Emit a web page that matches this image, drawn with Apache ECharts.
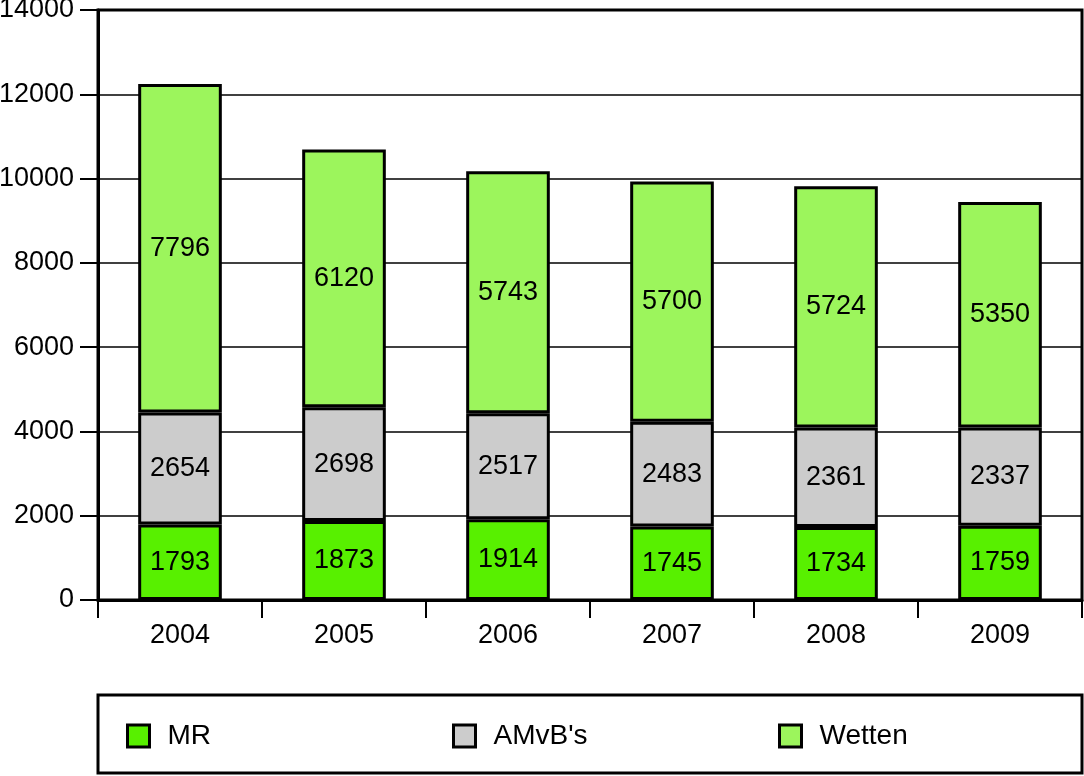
<!DOCTYPE html>
<html><head><meta charset="utf-8">
<script src="https://cdn.jsdelivr.net/npm/echarts@6/dist/echarts.min.js"></script>
<style>html,body{margin:0;padding:0;background:#fff}#c{width:1084px;height:776px}</style>
</head><body><div id="c"></div>
<script>
const years = ['2004','2005','2006','2007','2008','2009'];
const mr = [1793,1873,1914,1745,1734,1759];
const amvb = [2654,2698,2517,2483,2361,2337];
const wetten = [7796,6120,5743,5700,5724,5350];
const seriesNames = ['MR',"AMvB's",'Wetten'];
const colors = ['#58f000','#cccccc','#9cf55c'];
const FONT = '"Liberation Sans", Arial, sans-serif';

const chart = echarts.init(document.getElementById('c'));
const mk = (name, data, color) => ({
  name, type:'bar', stack:'t', data, barWidth:'51%',
  itemStyle:{color, borderColor:'#000', borderWidth:3},
  label:{show:true, position:'inside', color:'#000', fontSize:27, fontFamily:FONT},
  emphasis:{disabled:true}
});
const lg = (name, left) => ({
  data:[name], left, top:722, padding:0, orient:'horizontal', icon:'rect',
  itemWidth:22, itemHeight:22, itemGap:0,
  itemStyle:{borderColor:'#000', borderWidth:3},
  textStyle:{fontSize:28, color:'#000', fontFamily:FONT, padding:[0,0,0,13]},
  selectedMode:false
});
chart.setOption({
  animation:false,
  textStyle:{fontFamily:FONT},
  grid:{left:98, right:2, top:10, bottom:176, show:true, borderColor:'#000', borderWidth:3, containLabel:false, outerBoundsMode:'none'},
  xAxis:{type:'category', data:years, boundaryGap:true,
    axisLine:{show:true, lineStyle:{color:'#000', width:3}},
    axisTick:{show:true, length:18, lineStyle:{color:'#000', width:2}},
    axisLabel:{fontSize:27, color:'#000', margin:22, fontFamily:FONT}},
  yAxis:{type:'value', min:0, max:14000, interval:2000,
    axisLine:{show:true, lineStyle:{color:'#000', width:3}},
    axisTick:{show:true, length:18, lineStyle:{color:'#000', width:2}},
    axisLabel:{fontSize:27, color:'#000', margin:24, fontFamily:FONT, formatter:v=>String(v)},
    splitLine:{show:true, lineStyle:{color:'#000', width:1.5}}},
  legend:[lg(seriesNames[0],126), lg(seriesNames[1],452), lg(seriesNames[2],778)],
  graphic:[{type:'rect', shape:{x:98, y:695, width:984, height:78}, style:{fill:'none', stroke:'#000', lineWidth:3}}],
  series:[mk(seriesNames[0], mr, colors[0]), mk(seriesNames[1], amvb, colors[1]), mk(seriesNames[2], wetten, colors[2])]
});
</script></body></html>
